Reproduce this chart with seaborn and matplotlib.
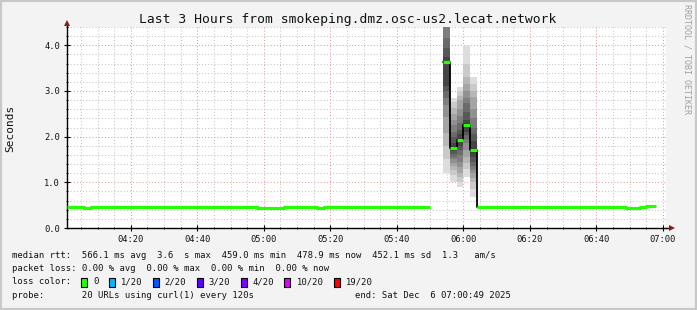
import numpy as np
import pandas as pd
import matplotlib
matplotlib.use("Agg")
import matplotlib.pyplot as plt
import matplotlib.dates as mdates
from matplotlib.ticker import MultipleLocator, FormatStrFormatter
from matplotlib.patches import Rectangle
import seaborn as sns

# ---------------- data ----------------
DAY = "2025-12-06 "
t_start = "04:00:49"
t_end = "07:00:49"

# baseline median rtt (seconds), step-post, two segments separated by a gap
segA_times = ["04:00:49", "04:06", "04:08", "04:32", "04:46", "04:58", "05:06", "05:16", "05:18", "05:50"]
segA_vals = [0.45, 0.43, 0.45, 0.46, 0.45, 0.44, 0.45, 0.44, 0.45, 0.45]
segB_times = ["06:04", "06:10", "06:49", "06:53", "06:55", "06:58"]
segB_vals = [0.47, 0.45, 0.43, 0.45, 0.48, 0.48]

# smoke columns (2-minute samples) : start times, medians, 20 sorted pings
smoke_times = ["05:54", "05:56", "05:58", "06:00", "06:02"]
smoke_end = "06:04"
smoke_medians = [3.63, 1.76, 1.92, 2.25, 1.70]
pings_c1 = [1.2, 1.5, 1.8, 2.08, 2.43, 2.7, 2.85, 3.0, 3.1, 3.6, 3.66, 3.75, 3.95, 4.15, 4.6, 4.8, 5.0, 5.2, 5.5, 5.8]
pings_c2 = [1.0, 1.15, 1.27, 1.35, 1.42, 1.5, 1.55, 1.62, 1.68, 1.73, 1.79, 1.87, 1.99, 2.1, 2.25, 2.36, 2.5, 2.62, 2.75, 2.84]
pings_c3 = [0.9, 1.0, 1.11, 1.2, 1.33, 1.45, 1.6, 1.7, 1.8, 1.88, 1.96, 2.05, 2.15, 2.3, 2.45, 2.6, 2.8, 2.9, 3.0, 3.08]
pings_c4 = [1.11, 1.3, 1.42, 1.55, 1.7, 1.85, 1.95, 2.03, 2.1, 2.2, 2.3, 2.36, 2.55, 2.73, 2.85, 3.0, 3.15, 3.3, 3.6, 3.98]
pings_c5 = [0.68, 0.85, 1.0, 1.1, 1.2, 1.27, 1.35, 1.45, 1.55, 1.65, 1.75, 1.9, 2.05, 2.2, 2.4, 2.6, 2.86, 3.0, 3.15, 3.3]
after_drop = 0.47

loss_labels = ["0", "1/20", "2/20", "3/20", "4/20", "10/20", "19/20"]
loss_colors = ["#26ff00", "#00b8ff", "#0059ff", "#5e00ff", "#7e00ff", "#dd00ff", "#ff0000"]

title = "Last 3 Hours from smokeping.dmz.osc-us2.lecat.network"
line_rtt = "median rtt:  566.1 ms avg  3.6  s max  459.0 ms min  478.9 ms now  452.1 ms sd  1.3   am/s"
line_loss = "packet loss: 0.00 % avg  0.00 % max  0.00 % min  0.00 % now"
line_probe = "probe:       20 URLs using curl(1) every 120s"
line_end = "end: Sat Dec  6 07:00:49 2025"

# ---------------- style ----------------
sns.set_theme(style="white")
plt.rcParams["font.family"] = ["DejaVu Sans Mono", "DejaVu Sans"]

W, H = 697, 310
fig = plt.figure(figsize=(W / 100, H / 100), dpi=100)
fig.patch.set_facecolor("#f3f3f3")

def T(s):
    return pd.Timestamp(DAY + s)

L, R, TOP, BOT = 67, 665.7, 27, 228
ax = fig.add_axes([L / W, 1 - BOT / H, (R - L) / W, (BOT - TOP) / H])
ax.set_facecolor("white")
ax.set_xlim(T(t_start), T(t_end))
ax.set_ylim(0, 4.4)

# grid
ax.xaxis.set_major_locator(mdates.MinuteLocator(byminute=[0, 20, 40]))
ax.xaxis.set_minor_locator(mdates.MinuteLocator(byminute=range(0, 60, 5)))
ax.xaxis.set_major_formatter(mdates.DateFormatter("%H:%M"))
ax.yaxis.set_major_locator(MultipleLocator(1.0))
ax.yaxis.set_minor_locator(MultipleLocator(0.2))
ax.yaxis.set_major_formatter(FormatStrFormatter("%.1f"))
ax.set_axisbelow(True)
ax.grid(which="minor", color="#c6c6c6", linestyle=(0, (1, 2)), linewidth=0.75)
ax.grid(which="major", color="#e69a9a", linestyle=(0, (1, 2)), linewidth=0.75)

# smoke (smokeping-style graded bands between symmetric ping pairs)
all_pings = [pings_c1, pings_c2, pings_c3, pings_c4, pings_c5]
starts = [T(s) for s in smoke_times]
ends = starts[1:] + [T(smoke_end)]
for t0, t1, pings in zip(starts, ends, all_pings):
    p = sorted(pings)
    n = len(p)
    half = n / 2
    for ib in range(1, n // 2 + 1):
        it = n + 1 - ib
        g = int(190 / half * (half - ib)) + 50
        col = "#%02x%02x%02x" % (g, g, g)
        ax.fill_between([t0, t1], [p[ib - 1]] * 2, [p[it - 1]] * 2,
                        color=col, linewidth=0, zorder=2)

# black median connector through smoke columns
conn = pd.DataFrame({"t": starts + [T(smoke_end)],
                     "v": smoke_medians + [after_drop]})
sns.lineplot(data=conn, x="t", y="v", ax=ax, color="black", linewidth=1.3,
             drawstyle="steps-post", estimator=None, sort=False, zorder=3)

# green baseline segments
base = pd.DataFrame({
    "t": [T(s) for s in segA_times] + [T(s) for s in segB_times],
    "v": segA_vals + segB_vals,
    "seg": ["A"] * len(segA_times) + ["B"] * len(segB_times),
})
sns.lineplot(data=base, x="t", y="v", units="seg", ax=ax, color=loss_colors[0],
             linewidth=2.3, drawstyle="steps-post", estimator=None, sort=False,
             zorder=4, solid_capstyle="butt")

# green median ticks on smoke columns
ax.hlines(smoke_medians, starts, ends, colors=loss_colors[0], linewidth=2.3, zorder=5)

ax.set_xlabel("")
ax.set_ylabel("")

# axes look
for s in ["top", "right"]:
    ax.spines[s].set_visible(False)
for s in ["left", "bottom"]:
    ax.spines[s].set_color("black")
    ax.spines[s].set_linewidth(1.0)
ax.tick_params(which="major", direction="inout", length=4, width=0.8, color="black",
               labelsize=6.3, pad=3, left=True, bottom=True)
ax.tick_params(which="minor", direction="inout", length=2, width=0.6, color="black",
               left=True, bottom=True)
for lab in ax.get_xticklabels() + ax.get_yticklabels():
    lab.set_color("#111111")

# axis arrows
ax.plot([0, 0], [1, 1.02], transform=ax.transAxes, color="black", lw=1.0, clip_on=False)
ax.plot([0], [1.022], marker="^", markersize=4.5, color="#8b1a1a", transform=ax.transAxes,
        clip_on=False, markeredgewidth=0)
ax.plot([1, 1.008], [0, 0], transform=ax.transAxes, color="black", lw=1.0, clip_on=False)
ax.plot([1.01], [0], marker=">", markersize=4.5, color="#8b1a1a", transform=ax.transAxes,
        clip_on=False, markeredgewidth=0)

# texts
def fx(x):
    return x / W

def fy(y):
    return 1 - y / H

fig.text(fx(348), fy(19), title, ha="center", va="center", fontsize=9.4, color="#111111")
fig.text(fx(10), fy(128), "Seconds", rotation=90, ha="center", va="center", fontsize=8,
         color="#111111")
fig.text(fx(687), fy(59), "RRDTOOL / TOBI OETIKER", rotation=-90, ha="center", va="center",
         fontsize=6, color="#a0a0a0")

LFS = 6.4
cw = LFS / 72 * 100 * 0.602
fig.text(fx(12), fy(255), line_rtt, ha="left", va="center", fontsize=LFS, color="#111111")
fig.text(fx(12), fy(268.5), line_loss, ha="left", va="center", fontsize=LFS, color="#111111")
fig.text(fx(12), fy(282), "loss color:", ha="left", va="center", fontsize=LFS, color="#111111")
x = 81.0
for lab, col in zip(loss_labels, loss_colors):
    fig.patches.append(Rectangle((fx(x), fy(286.5)), 6 / W, 9 / H, transform=fig.transFigure,
                                 facecolor=col, edgecolor="black", linewidth=0.8))
    fig.text(fx(x + 12), fy(282), lab, ha="left", va="center", fontsize=LFS, color="#111111")
    x = x + 12 + len(lab) * cw + 10.5
fig.text(fx(12), fy(296), line_probe, ha="left", va="center", fontsize=LFS, color="#111111")
fig.text(fx(511), fy(296), line_end, ha="right", va="center", fontsize=LFS, color="#111111")

# outer frame
fig.patches.append(Rectangle((0, 0), 1, 1, transform=fig.transFigure, fill=False,
                             edgecolor="#c8c8c8", linewidth=3))

fig.savefig("out.png", dpi=100, facecolor=fig.get_facecolor())
